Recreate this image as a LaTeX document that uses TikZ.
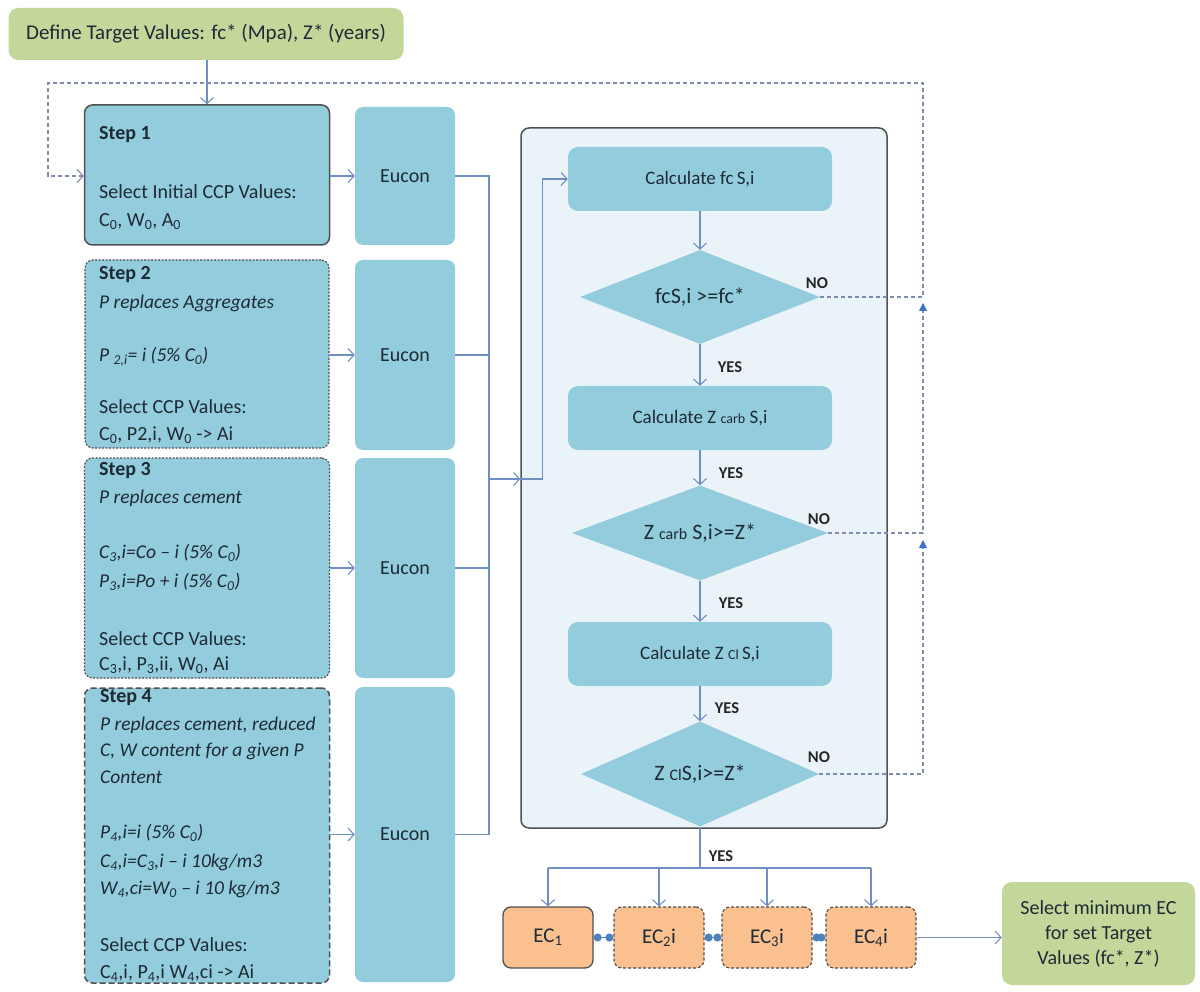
\documentclass[tikz,border=0pt]{standalone}
\usepackage{fontspec}
\setmainfont{Carlito}
\usetikzlibrary{arrows.meta,shapes.geometric}
\definecolor{boxblue}{RGB}{147,205,221}
\definecolor{contfill}{RGB}{234,244,248}
\definecolor{greenf}{RGB}{196,215,155}
\definecolor{ecfill}{RGB}{250,192,144}
\definecolor{linec}{RGB}{111,142,196}
\definecolor{dashc}{RGB}{125,140,170}
\definecolor{txt}{RGB}{30,42,52}
\definecolor{bord}{RGB}{80,80,80}
\definecolor{tri}{RGB}{68,114,196}
\definecolor{dotc}{RGB}{79,129,189}
\begin{document}
\begin{tikzpicture}[x=1pt,y=-1pt,
  box/.style={rectangle, rounded corners=8pt, fill=boxblue, inner sep=0pt, text=txt},
  stepsolid/.style={box, draw=bord, line width=1.5pt},
  stepdot/.style={box, draw=bord, line width=1.2pt, dash pattern=on 2pt off 1.5pt},
  stepdash/.style={box, draw=bord, line width=1.5pt, dash pattern=on 6pt off 3pt},
  txtl/.style={anchor=west, inner sep=0pt, text=txt, font=\fontsize{20}{22}\selectfont},
  txti/.style={txtl, font=\itshape\fontsize{19.5}{22}\selectfont},
  txtb/.style={txtl, font=\bfseries\fontsize{20}{22}\selectfont},
  eucon/.style={box, font=\fontsize{20}{22}\selectfont, minimum width=100pt},
  calc/.style={box, rounded corners=10pt, minimum width=264pt, minimum height=64pt, font=\fontsize{19}{21}\selectfont},
  dia/.style={diamond, aspect=2.5, fill=boxblue, inner sep=0pt, text=txt, font=\fontsize{22}{24}\selectfont},
  lbl/.style={inner sep=0pt, text=black!85, font=\bfseries\fontsize{16.5}{18}\selectfont},
  ecbox/.style={rectangle, rounded corners=8pt, fill=ecfill, draw=bord, line width=1.3pt, minimum width=90pt, minimum height=61pt, text=txt, font=\fontsize{21}{23}\selectfont},
  ecdash/.style={ecbox, line width=1.2pt, dash pattern=on 3pt off 2pt},
  greenbox/.style={rectangle, rounded corners=10pt, fill=greenf, text=txt, inner sep=0pt},
  ln/.style={draw=linec, line width=1.1pt},
  arr/.style={ln, -{Straight Barb[length=6pt,width=13pt]}},
  dsh/.style={draw=dashc, line width=1.1pt, dash pattern=on 4pt off 3pt},
  dotlink/.style={draw=dotc, line width=1.6pt, {Circle[length=8pt]}-{Circle[length=8pt]}}
]
\useasboundingbox (0,0) rectangle (1200,992);

% top green box
\node[greenbox, minimum width=395pt, minimum height=52pt, font=\fontsize{21}{23}\selectfont] (top) at (206,34) {Define Target Values: fc* (Mpa), Z* (years)};

% step boxes
\node[stepsolid, minimum width=245pt, minimum height=140pt] (s1) at (207,175) {};
\node[stepdot, minimum width=244pt, minimum height=188pt] (s2) at (207,354) {};
\node[stepdot, minimum width=245pt, minimum height=220pt] (s3) at (207,568) {};
\node[stepdash, minimum width=245pt, minimum height=295pt] (s4) at (207,835.5) {};

% step texts
\node[txtb] (t11) at (99,135) {Step 1};
\node[txtl] (t12) at (99,192) {Select Initial CCP Values:};
\node[txtl] (t13) at (99,222) {C\textsubscript{0}, W\textsubscript{0}, A\textsubscript{0}};

\node[txtb] (t21) at (99,275) {Step 2};
\node[txti] (t22) at (99,303) {P replaces Aggregates};
\node[txti] (t23) at (99,357) {P \textsubscript{2,i}= i (5\% C\textsubscript{0})};
\node[txtl] (t24) at (99,407) {Select CCP Values:};
\node[txtl] (t25) at (99,435) {C\textsubscript{0}, P2,i, W\textsubscript{0} -> Ai};

\node[txtb] (t31) at (99,471) {Step 3};
\node[txti] (t32) at (99,498) {P replaces cement};
\node[txti] (t33) at (99,553) {C\textsubscript{3},i=Co – i (5\% C\textsubscript{0})};
\node[txti] (t34) at (99,582) {P\textsubscript{3},i=Po + i (5\% C\textsubscript{0})};
\node[txtl] (t35) at (99,639) {Select CCP Values:};
\node[txtl] (t36) at (99,665) {C\textsubscript{3},i, P\textsubscript{3},ii, W\textsubscript{0}, Ai};

\node[txtb] (t41) at (100,698) {Step 4};
\node[txti] (t42) at (100,725) {P replaces cement, reduced};
\node[txti] (t43) at (100,751) {C, W content for a given P};
\node[txti] (t44) at (100,777) {Content};
\node[txti] (t45) at (100,833) {P\textsubscript{4},i=i (5\% C\textsubscript{0})};
\node[txti] (t46) at (100,862) {C\textsubscript{4},i=C\textsubscript{3},i – i 10kg/m3};
\node[txti] (t47) at (100,889) {W\textsubscript{4},ci=W\textsubscript{0} – i 10 kg/m3};
\node[txtl] (t48) at (100,945) {Select CCP Values:};
\node[txtl] (t49) at (100,973) {C\textsubscript{4},i, P\textsubscript{4},i W\textsubscript{4},ci -> Ai};

% eucon boxes
\node[eucon, minimum height=138pt] (eu1) at (405,176) {Eucon};
\node[eucon, minimum height=190pt] (eu2) at (405,355) {Eucon};
\node[eucon, minimum height=220pt] (eu3) at (405,568) {Eucon};
\node[eucon, minimum height=295pt] (eu4) at (405,834.5) {Eucon};

\draw[arr] (s1.east |- eu1) -- (eu1.west);
\draw[arr] (s2.east |- eu2) -- (eu2.west);
\draw[arr] (s3.east |- eu3) -- (eu3.west);
\draw[arr] (s4.east |- eu4) -- (eu4.west);

% container
\node[rectangle, rounded corners=8pt, fill=contfill, draw=bord, line width=1.5pt, minimum width=366pt, minimum height=700pt] (cont) at (704,478) {};

% bus from eucon boxes
\coordinate (bt) at (489,176);
\coordinate (bm) at (489,479);
\draw[ln] (eu1.east) -- (bt) -- (bt |- eu4.east) -- (eu4.east);
\draw[ln] (eu2.east) -- (eu2.east -| bt);
\draw[ln] (eu3.east) -- (eu3.east -| bt);

% process nodes
\node[calc] (c1) at (700,179) {Calculate fc\,S,i};
\node[dia, minimum width=240pt, minimum height=94pt] (d1) at (700,297) {fcS,i >=fc*};
\node[calc] (c2) at (700,418) {Calculate Z {\fontsize{14}{15}\selectfont carb} S,i};
\node[dia, minimum width=256pt, minimum height=95pt] (d2) at (700,533) {Z {\fontsize{16}{17}\selectfont carb} S,i>=Z*};
\node[calc] (c3) at (700,654) {Calculate Z {\fontsize{14}{15}\selectfont Cl}\,S,i};
\node[dia, minimum width=238pt, minimum height=105pt] (d3) at (700,774) {Z {\fontsize{16}{17}\selectfont Cl}S,i>=Z*};

\draw[arr] (bm) -- (bm -| cont.west);
\draw[arr] (bm -| cont.west) -- ++(22,0) |- (c1.west);

\draw[arr] (c1.south) -- (d1.north);
\draw[arr] (d1.south) -- (c2.north);
\draw[arr] (c2.south) -- (d2.north);
\draw[arr] (d2.south) -- (c3.north);
\draw[arr] (c3.south) -- (d3.north);

\node[lbl] (y1) at (730,367) {YES};
\node[lbl] (y2) at (731,473) {YES};
\node[lbl] (y3) at (731,603) {YES};
\node[lbl] (y4) at (727,708) {YES};
\node[lbl] (y5) at (721,856) {YES};
\node[lbl] (n1) at (817,283) {NO};
\node[lbl] (n2) at (819,519) {NO};
\node[lbl] (n3) at (819,757) {NO};

% dashed feedback lines
\coordinate (r1) at (923,83);
\coordinate (l1) at (48,83);
\coordinate (ta) at (923,303);
\coordinate (tb) at (923,540);
\draw[dsh, -{Straight Barb[length=6pt,width=13pt]}] (d1.east) -- (d1.east -| r1) -- (r1) -- (l1) -- (l1 |- eu1) -- (s1.west |- eu1);
\draw[dsh, -{Triangle[length=8pt,width=8pt,color=tri]}] (d2.east) -- (d2.east -| r1) -- (ta);
\draw[dsh, -{Triangle[length=8pt,width=8pt,color=tri]}] (d3.east) -- (d3.east -| r1) -- (tb);

% top arrow
\draw[arr] (top.south -| 207,0) -- (s1.north -| 207,0);

% EC boxes
\node[ecbox] (ec1) at (548,937.5) {EC\textsubscript{1}};
\node[ecdash] (ec2) at (659,937.5) {EC\textsubscript{2}i};
\node[ecdash] (ec3) at (767,937.5) {EC\textsubscript{3}i};
\node[ecdash] (ec4) at (871,937.5) {EC\textsubscript{4}i};

\coordinate (hb) at (700,868);
\draw[ln] (d3.south) -- (hb);
\draw[ln] (ec1.north |- hb) -- (ec4.north |- hb);
\draw[arr] (ec1.north |- hb) -- (ec1.north);
\draw[arr] (ec2.north |- hb) -- (ec2.north);
\draw[arr] (ec3.north |- hb) -- (ec3.north);
\draw[arr] (ec4.north |- hb) -- (ec4.north);

\draw[dotlink] (ec1.east) -- (ec2.west);
\draw[dotlink] (ec2.east) -- (ec3.west);
\draw[dotlink] (ec3.east) -- (ec4.west);

% final green box
\node[greenbox, minimum width=193pt, minimum height=103pt, align=center, font=\fontsize{20}{25}\selectfont] (fin) at (1098.5,933.5) {Select minimum EC\\for set Target\\Values (fc*, Z*)};
\draw[arr] (ec4.east) -- (ec4.east -| fin.west);
\end{tikzpicture}
\end{document}
